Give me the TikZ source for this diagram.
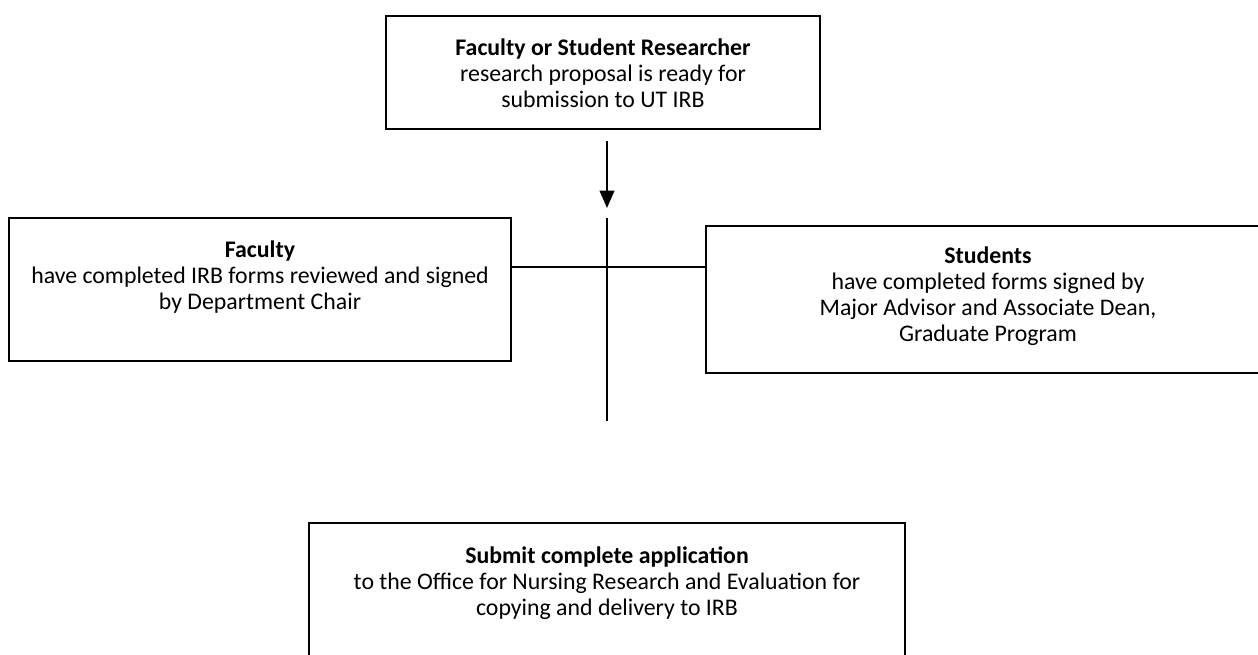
\documentclass[tikz,border=0pt]{standalone}
\usepackage{fontspec}
\setmainfont{Carlito}
\usetikzlibrary{arrows.meta}
\begin{document}
\begin{tikzpicture}[x=0.55pt,y=-0.55pt,
  box/.style={draw=black,line width=0.8pt,rectangle,inner sep=0pt},
  label/.style={anchor=north,inner sep=0pt,align=center,font=\fontsize{13.1pt}{14.3pt}\selectfont},
  conn/.style={line width=0.8pt},
  arr/.style={line width=1.1pt,-{Triangle[width=8pt,length=9.5pt]}}]
\useasboundingbox (0,0) rectangle (1258,654);
\clip (0,0) rectangle (1258,654);
% boxes
\draw[box] (386,16) rectangle (820,129);
\draw[box] (9,218) rectangle (511,361);
\draw[box] (706,226) rectangle (1275,373);
\draw[box] (309,523) rectangle (905,680);
\coordinate (leftE) at (511,267);
\coordinate (rightW) at (706,267);
% texts
\node[label] (toptext) at (603,38) {\textbf{Faculty or Student Researcher}\\research proposal is ready for\\submission to UT IRB};
\node[label] (lefttext) at (260,240) {\textbf{Faculty}\\have completed IRB forms reviewed and signed\\by Department Chair};
\node[label] (righttext) at (988,246) {\textbf{Students}\\have completed forms signed by\\Major Advisor and Associate Dean,\\Graduate Program};
\node[label] (bottext) at (607,546) {\textbf{Submit complete application}\\to the Office for Nursing Research and Evaluation for\\copying and delivery to IRB};
% connectors
\coordinate (a1) at (607,141);
\coordinate (a2) at (607,208);
\coordinate (v1) at (607,218);
\coordinate (v2) at (607,421);
\draw[arr] (a1) -- (a2);
\draw[conn] (v1) -- (v2);
\draw[conn] (leftE) -- (rightW);
\end{tikzpicture}
\end{document}
